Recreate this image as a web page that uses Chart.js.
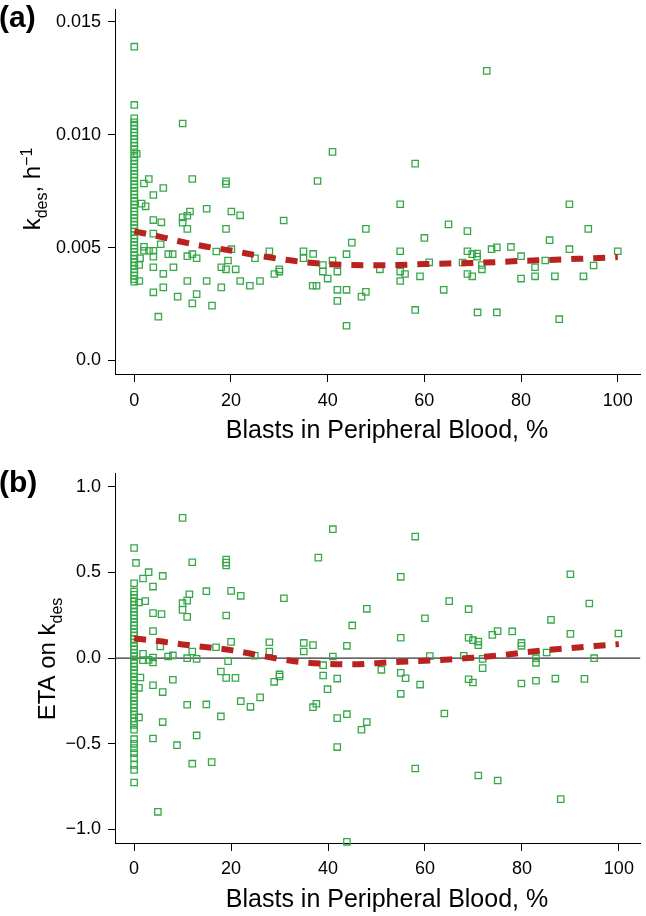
<!DOCTYPE html>
<html><head><meta charset="utf-8">
<script src="https://cdn.jsdelivr.net/npm/chart.js@4/dist/chart.umd.min.js"></script>
<style>
html,body{margin:0;padding:0;background:#fff;}
#wrap{position:relative;width:646px;height:916px;overflow:hidden;}
canvas{position:absolute;left:0;}
#ca{top:0;}
#cb{top:458px;}
</style></head><body>
<div id="wrap">
<canvas id="ca" width="646" height="458"></canvas>
<canvas id="cb" width="646" height="458"></canvas>
</div>
<script>
// ---------- DATA ----------
const xTicks = [0, 20, 40, 60, 80, 100];
const xTickLabels = ['0', '20', '40', '60', '80', '100'];
const yTicksA = [0, 0.005, 0.010, 0.015];
const yTickLabelsA = ['0.0', '0.005', '0.010', '0.015'];
const yTicksB = [-1, -0.5, 0, 0.5, 1];
const yTickLabelsB = ['\u22121.0', '\u22120.5', '0.0', '0.5', '1.0'];

// Panel (a): k_des (x10^-3 h^-1) of patients with 0% blasts
const kdesZeroBlastsA = [13.9, 11.32, 10.73, 10.55, 10.4, 10.25, 10.1, 9.95, 9.8, 9.65, 9.5, 9.35, 9.16, 9.0, 8.85, 8.7, 8.55, 8.4, 8.25, 8.1, 7.95, 7.8, 7.65, 7.5, 7.35, 7.2, 7.05, 6.9, 6.75, 6.6, 6.45, 6.3, 6.15, 6.0, 5.85, 5.7, 5.55, 5.4, 5.25, 5.1, 4.95, 4.8, 4.65, 4.5, 4.35, 4.2, 4.05, 3.9, 3.75, 3.6, 3.49];
// Panel (a): other patients, blasts % and k_des (x10^-3 h^-1)
const blastsA = [0.5,1.0,1.04,1.2,1.5,2.0,2.0,2.0,2.35,3.0,
  3.04,3.94,3.94,3.94,3.94,3.94,3.94,3.94,4.97,5.46,
  5.6,6.0,6.0,6.0,7.04,7.94,8.1,8.97,10.0,10.0,
  10.0,10.97,11.52,10.97,10.97,10.97,12.0,12.0,12.0,12.9,
  12.9,14.97,14.97,16.07,16.97,18.0,18.0,18.97,18.97,18.97,
  18.97,19.39,20.08,20.08,20.97,21.9,21.9,23.9,24.97,26.0,
  27.94,28.97,30.0,30.0,30.9,35.0,35.0,36.9,37.0,37.7,
  37.9,39.0,39.0,40.0,41.0,41.0,42.0,42.0,42.0,43.9,
  43.9,43.9,45.0,47.0,47.9,47.9,50.8,55.0,55.0,55.0,
  55.0,56.0,58.1,58.1,59.1,60.0,61.0,64.0,65.0,67.9,
  68.9,68.9,68.9,69.9,69.9,70.9,70.9,71.9,71.9,71.0,
  72.9,73.9,75.0,75.0,77.9,80.0,80.0,82.9,82.9,85.0,
  85.9,87.0,87.9,90.0,90.0,92.9,93.9,95.0,100.0];
const kdesA = [9.16,4.23,3.52,4.53,6.95,7.84,5.04,4.86,6.83,8.04,
  4.86,7.33,6.22,5.62,4.86,4.6,4.13,3.02,1.94,5.15,
  6.12,7.64,3.84,3.24,4.71,4.71,4.13,2.83,10.5,6.34,
  6.1,6.41,6.6,5.83,4.62,3.52,8.04,4.71,2.53,4.53,
  2.94,6.72,3.52,2.43,4.83,4.13,3.24,7.94,7.82,5.83,
  4.04,4.43,4.93,6.6,4.04,6.43,3.52,3.31,4.53,3.52,
  4.84,3.83,3.94,4.04,6.2,4.84,4.53,3.31,4.72,3.31,
  7.95,4.23,3.94,3.63,9.24,4.43,3.94,3.13,2.64,4.71,
  3.13,1.54,5.22,2.83,3.04,5.83,4.04,6.92,4.84,3.94,
  3.52,3.83,8.72,2.24,3.73,5.43,4.35,3.13,6.03,4.34,
  5.73,4.84,3.83,4.71,3.73,4.74,4.6,4.23,4.04,2.13,
  12.83,4.93,5.01,2.13,5.03,4.62,3.63,4.13,3.73,4.43,
  5.33,3.73,1.83,6.92,4.93,3.73,5.83,4.21,4.84];

// Panel (b): ETA on k_des of patients with 0% blasts
const etaZeroBlastsB = [0.643, 0.437, 0.389, 0.37, 0.35, 0.33, 0.31, 0.29, 0.27, 0.25, 0.23, 0.21, 0.19, 0.17, 0.15, 0.13, 0.11, 0.09, 0.07, 0.05, 0.03, 0.01, -0.01, -0.03, -0.05, -0.07, -0.09, -0.11, -0.13, -0.15, -0.17, -0.19, -0.21, -0.23, -0.25, -0.27, -0.29, -0.31, -0.33, -0.35, -0.37, -0.39, -0.418, -0.473, -0.5, -0.525, -0.554, -0.583, -0.623, -0.652, -0.726];
const blastsB = [0.4,1.0,2.3,1.84,3.0,3.9,5.9,3.9,5.65,3.9,
  5.4,1.84,1.84,3.0,3.9,3.9,7.0,8.0,1.3,1.0,
  3.9,5.9,8.0,1.0,5.9,3.9,8.85,4.9,10.0,12.0,
  10.0,10.0,10.95,11.4,10.95,12.0,10.95,12.9,10.95,12.9,
  12.0,14.9,14.9,16.0,16.9,17.9,17.9,19.0,19.0,19.0,
  19.0,20.0,20.0,19.4,19.0,20.9,22.0,22.0,24.0,26.0,
  24.9,27.9,27.9,28.9,30.0,30.0,30.9,35.0,35.0,36.9,
  36.9,37.6,38.0,39.0,39.0,39.9,41.0,41.0,41.9,41.9,
  41.9,43.9,43.9,43.9,45.0,46.9,48.0,48.0,51.0,55.0,
  55.0,55.0,56.0,55.0,58.0,58.0,59.0,60.0,61.0,64.0,
  65.0,68.0,69.0,69.0,69.9,71.0,71.0,69.0,69.9,71.9,
  71.9,71.0,73.9,75.0,75.0,78.0,79.9,79.9,79.9,82.9,
  82.9,82.9,85.1,86.0,86.9,88.0,90.0,90.0,92.9,93.9,
  94.9,99.9];
const etaB = [0.556,0.325,0.333,0.465,0.502,0.418,0.48,0.263,0.257,0.158,
  0.068,0.025,-0.012,-0.01,0.004,-0.025,0.01,0.016,-0.113,-0.173,
  -0.158,-0.198,-0.126,-0.346,-0.373,-0.469,-0.508,-0.897,0.819,0.56,
  0.321,0.282,0.336,0.373,0.241,0.039,0.0,-0.004,-0.272,-0.451,
  -0.616,0.391,-0.27,-0.607,0.064,-0.078,-0.34,0.576,0.558,0.541,
  0.249,0.393,0.095,-0.018,-0.115,-0.115,0.364,-0.251,-0.284,-0.229,
  0.014,0.093,0.039,-0.138,-0.107,-0.095,0.35,0.089,0.039,0.076,
  -0.286,-0.266,0.587,-0.041,-0.101,-0.181,0.753,0.01,-0.119,-0.35,
  -0.519,0.072,-0.327,-1.072,0.191,-0.418,0.288,-0.373,-0.068,0.475,
  0.119,-0.086,-0.117,-0.208,0.71,-0.644,-0.154,0.233,0.012,-0.323,
  0.333,0.014,0.286,0.119,0.105,0.097,0.076,-0.123,-0.142,-0.004,
  -0.058,-0.685,0.136,0.158,-0.714,0.156,0.089,0.072,-0.148,0.0,
  -0.027,-0.132,0.033,0.224,-0.119,-0.823,0.49,0.142,-0.121,0.319,
  0.0,0.144];

// Smooth trend lines
const fitBlasts = [0,5,10,15,20,25,30,35,40,45,50,55,60,65,70,75,80,85,90,95,100];
const fitKdesA = [5.72,5.50,5.25,5.04,4.87,4.67,4.50,4.36,4.27,4.23,4.22,4.23,4.27,4.30,4.32,4.36,4.41,4.45,4.49,4.53,4.58];
const fitEtaB = [0.115,0.100,0.080,0.064,0.047,0.021,-0.005,-0.024,-0.033,-0.036,-0.029,-0.021,-0.015,-0.008,0.003,0.015,0.032,0.047,0.059,0.071,0.082];
const zeroLineB = [0];

// ---------- STYLE ----------
const FONT = "'Liberation Sans', Arial, Helvetica, sans-serif";
const GREEN = '#36a84a';
const RED = '#b8231f';

const pointsA = kdesZeroBlastsA.map(v => ({x: 0, y: v / 1000}))
  .concat(blastsA.map((b, i) => ({x: b, y: kdesA[i] / 1000})));
const curveA = fitBlasts.map((b, i) => ({x: b, y: fitKdesA[i] / 1000}));
const pointsB = etaZeroBlastsB.map(v => ({x: 0, y: v}))
  .concat(blastsB.map((b, i) => ({x: b, y: etaB[i]})));
const curveB = fitBlasts.map((b, i) => ({x: b, y: fitEtaB[i]}));

function textPlugin(cfg) {
  return {
    id: 'texts',
    afterDraw(chart) {
      const ctx = chart.ctx;
      ctx.save();
      ctx.fillStyle = '#000';
      ctx.font = 'bold 30px ' + FONT;
      ctx.textAlign = 'left';
      ctx.textBaseline = 'alphabetic';
      ctx.fillText(cfg.panel, cfg.panelX, cfg.panelY);
      ctx.font = '25px ' + FONT;
      ctx.textAlign = 'center';
      ctx.textBaseline = 'middle';
      ctx.fillText(cfg.xTitle, cfg.xTitleX, cfg.xTitleY);
      ctx.translate(cfg.yBaseX, cfg.yCenterY);
      ctx.rotate(-Math.PI / 2);
      ctx.textAlign = 'left';
      ctx.textBaseline = 'alphabetic';
      let total = 0;
      const widths = [];
      for (const p of cfg.yParts) {
        ctx.font = p.size + 'px ' + FONT;
        const w = ctx.measureText(p.t).width;
        widths.push(w); total += w;
      }
      let x = -total / 2;
      cfg.yParts.forEach((p, i) => {
        ctx.font = p.size + 'px ' + FONT;
        ctx.fillText(p.t, x, p.dy);
        x += widths[i];
      });
      ctx.restore();
    }
  };
}

const zeroLinePlugin = {
  id: 'zeroLine',
  beforeDatasetsDraw(chart) {
    const {ctx, chartArea, scales} = chart;
    const y = scales.y.getPixelForValue(zeroLineB[0]);
    ctx.save();
    ctx.strokeStyle = '#333';
    ctx.lineWidth = 1.3;
    ctx.beginPath();
    ctx.moveTo(chartArea.left, y);
    ctx.lineTo(chartArea.right, y);
    ctx.stroke();
    ctx.restore();
  }
};

function makeScales(o) {
  return {
    x: {
      type: 'linear', position: 'bottom', min: o.xMin, max: o.xMax, bounds: 'data',
      afterBuildTicks: s => { s.ticks = xTicks.map(v => ({value: v})); },
      afterFit: s => { s.height = o.xHeight; s.paddingLeft = 0; s.paddingRight = 0; },
      grid: {display: true, drawOnChartArea: false, drawTicks: true, tickLength: 8, color: '#000', lineWidth: 1},
      border: {display: true, color: '#000', width: 1},
      ticks: {font: {family: FONT, size: 18}, color: '#000', padding: o.xTickPad, maxRotation: 0, autoSkip: false,
        callback: (v, i) => xTickLabels[i]},
      title: {display: false}
    },
    y: {
      type: 'linear', position: 'left', min: o.yMin, max: o.yMax, bounds: 'data',
      afterBuildTicks: s => { s.ticks = o.yTicks.map(v => ({value: v})); },
      afterFit: s => { s.width = 115; s.paddingTop = 0; s.paddingBottom = 0; },
      grid: {display: true, drawOnChartArea: false, drawTicks: true, tickLength: 7, color: '#000', lineWidth: 1},
      border: {display: true, color: '#000', width: 1},
      ticks: {font: {family: FONT, size: 18}, color: '#000', padding: 7, autoSkip: false,
        callback: (v, i) => o.yLabels[i]},
      title: {display: false}
    }
  };
}

function datasets(points, curve) {
  return [
    {type: 'line', data: curve, borderColor: RED, borderWidth: 6, borderDash: [12, 10],
     borderCapStyle: 'butt', pointRadius: 0, fill: false, tension: 0.4,
     cubicInterpolationMode: 'monotone', order: 0, clip: false},
    {type: 'scatter', data: points, pointStyle: 'rect', pointRadius: 4.5, pointHoverRadius: 4.5,
     borderColor: GREEN, backgroundColor: 'rgba(0,0,0,0)', borderWidth: 1.3,
     order: 1, clip: false}
  ];
}

const common = {
  responsive: false, animation: false, devicePixelRatio: 1, events: [],
  plugins: {legend: {display: false}, tooltip: {enabled: false}}
};

new Chart(document.getElementById('ca'), {
  type: 'scatter',
  data: {datasets: datasets(pointsA, curveA)},
  options: Object.assign({}, common, {
    layout: {padding: {top: 9, right: 6, bottom: 0, left: 0}},
    scales: makeScales({xMin: -3.99, xMax: 104.6, yMin: -0.000598, yMax: 0.01557, xHeight: 84, xTickPad: 8,
      yTicks: yTicksA, yLabels: yTickLabelsA})
  }),
  plugins: [textPlugin({
    panel: '(a)', panelX: -1, panelY: 27,
    xTitle: 'Blasts in Peripheral Blood, %', xTitleX: 387, xTitleY: 431,
    yBaseX: 40, yCenterY: 189,
    yParts: [{t: 'k', size: 24, dy: 0}, {t: 'des', size: 16, dy: 7}, {t: ', h', size: 24, dy: 0}, {t: '\u22121', size: 16, dy: -8}]
  })]
});

new Chart(document.getElementById('cb'), {
  type: 'scatter',
  data: {datasets: datasets(pointsB, curveB)},
  options: Object.assign({}, common, {
    layout: {padding: {top: 15, right: 0, bottom: 0, left: 0}},
    scales: makeScales({xMin: -3.94, xMax: 104.4, yMin: -1.079, yMax: 1.081, xHeight: 73, xTickPad: 7,
      yTicks: yTicksB, yLabels: yTickLabelsB})
  }),
  plugins: [zeroLinePlugin, textPlugin({
    panel: '(b)', panelX: -1, panelY: 34,
    xTitle: 'Blasts in Peripheral Blood, %', xTitleX: 387, xTitleY: 442,
    yBaseX: 55, yCenterY: 201,
    yParts: [{t: 'ETA on k', size: 24, dy: 0}, {t: 'des', size: 16, dy: 7}]
  })]
});
</script>
</body></html>
